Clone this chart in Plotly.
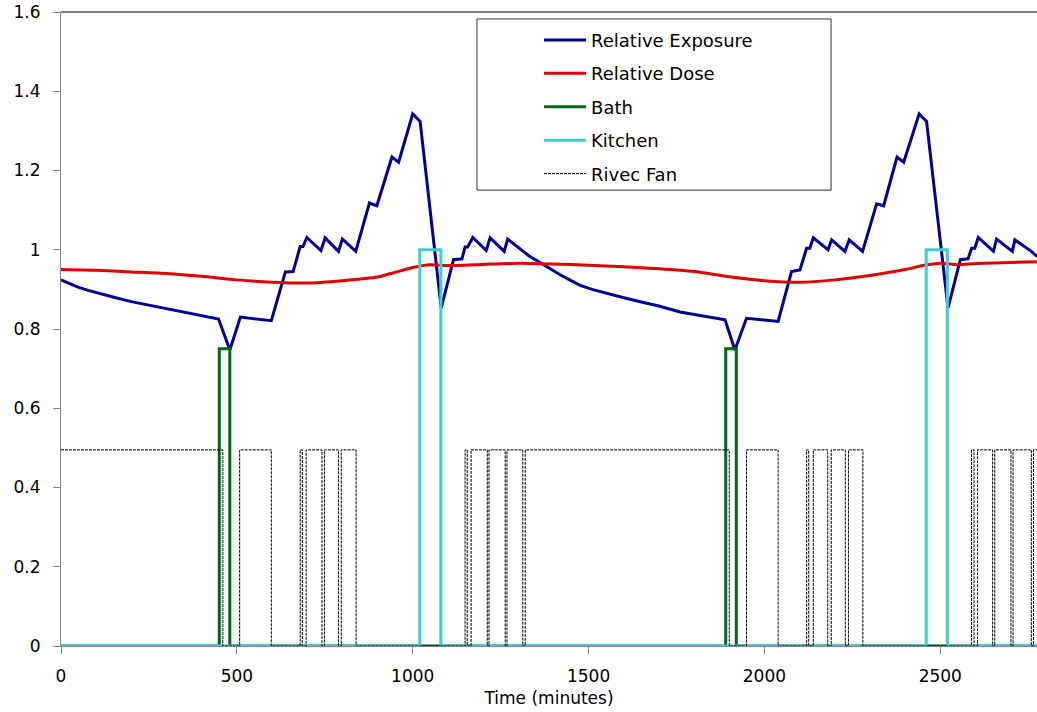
import plotly.graph_objects as go

# ---------------- data ----------------
exp_t = [0, 25, 50, 75, 112, 150, 200, 250, 300, 340, 400, 448, 480, 510, 598, 638, 660, 680,
         688, 699, 739, 751, 789, 800, 838, 877, 898, 941, 960, 1000, 1021, 1081, 1116, 1140,
         1149, 1156, 1171, 1209, 1220, 1260, 1270, 1315, 1330, 1362, 1390, 1419, 1450, 1476,
         1510, 1550, 1600, 1650, 1700, 1760, 1820, 1888, 1916, 1949, 2039, 2077, 2101, 2120,
         2129, 2139, 2181, 2191, 2229, 2241, 2279, 2319, 2339, 2377, 2396, 2440, 2461, 2522,
         2557, 2579, 2589, 2598, 2608, 2651, 2660, 2705, 2712, 2759, 2775]
exp_v = [0.924, 0.914, 0.905, 0.898, 0.890, 0.880, 0.869, 0.860, 0.852, 0.845, 0.834, 0.825,
         0.747, 0.830, 0.821, 0.944, 0.945, 1.008, 1.008, 1.031, 0.998, 1.030, 0.996, 1.027,
         0.996, 1.118, 1.111, 1.234, 1.221, 1.343, 1.324, 0.853, 0.975, 0.977, 1.007, 1.007,
         1.031, 0.998, 1.030, 0.996, 1.027, 0.996, 0.985, 0.968, 0.952, 0.937, 0.922, 0.910,
         0.900, 0.890, 0.879, 0.868, 0.858, 0.843, 0.833, 0.823, 0.747, 0.827, 0.819, 0.945,
         0.949, 1.004, 1.004, 1.030, 1.000, 1.025, 0.996, 1.025, 0.996, 1.116, 1.111, 1.234,
         1.221, 1.343, 1.324, 0.853, 0.975, 0.977, 1.004, 1.004, 1.031, 0.996, 1.027, 0.996,
         1.025, 0.996, 0.983]

dose_t = [0, 100, 200, 300, 400, 500, 600, 700, 800, 900, 950, 1000, 1050, 1100, 1200, 1300,
          1400, 1500, 1600, 1700, 1800, 1900, 2000, 2100, 2200, 2300, 2400, 2450, 2500, 2550,
          2600, 2700, 2775]
dose_v = [0.950, 0.948, 0.944, 0.940, 0.933, 0.924, 0.918, 0.916, 0.922, 0.931, 0.943, 0.955,
          0.962, 0.960, 0.963, 0.966, 0.964, 0.961, 0.957, 0.952, 0.945, 0.932, 0.922, 0.918,
          0.924, 0.935, 0.950, 0.960, 0.966, 0.962, 0.965, 0.968, 0.970]

bath_t = [0, 450, 480, 1890, 1920, 2775]
bath_v = [0, 0.75, 0, 0.75, 0, 0]

kitchen_t = [0, 1020, 1080, 2460, 2520, 2775]
kitchen_v = [0, 1.0, 0, 1.0, 0, 0]

fan_t = [0, 460, 508, 598, 680, 686, 697, 742, 749, 789, 797, 839,
         1149, 1155, 1166, 1212, 1217, 1263, 1268, 1313, 1320,
         1900, 1949, 2039, 2120, 2126, 2139, 2180, 2190, 2230, 2239, 2280,
         2589, 2596, 2606, 2649, 2655, 2701, 2707, 2759, 2765, 2775]
fan_v = [0.495, 0, 0.495, 0, 0.495, 0, 0.495, 0, 0.495, 0, 0.495, 0,
         0.495, 0, 0.495, 0, 0.495, 0, 0.495, 0, 0.495,
         0, 0.495, 0, 0.495, 0, 0.495, 0, 0.495, 0, 0.495, 0,
         0.495, 0, 0.495, 0, 0.495, 0, 0.495, 0, 0.495, 0.495]

x_ticks = [0, 500, 1000, 1500, 2000, 2500]
y_ticks = [0, 0.2, 0.4, 0.6, 0.8, 1.0, 1.2, 1.4, 1.6]
y_labels = ["0", "0.2", "0.4", "0.6", "0.8", "1", "1.2", "1.4", "1.6"]

FONT = "DejaVu Sans"
AXIS_GRAY = "#868686"

fig = go.Figure()
fig.add_trace(go.Scatter(x=exp_t, y=exp_v, mode="lines", name="Relative Exposure",
                         legendgroup="a", line=dict(color="#000096", width=3)))
fig.add_trace(go.Scatter(x=dose_t, y=dose_v, mode="lines", name="Relative Dose",
                         legendgroup="b", line=dict(color="#E00000", width=3, shape="spline",
                                                    smoothing=0.6)))
fig.add_trace(go.Scatter(x=bath_t, y=bath_v, mode="lines", name="Bath", legendgroup="c",
                         line=dict(color="#00661A", width=3, shape="hv")))
fig.add_trace(go.Scatter(x=kitchen_t, y=kitchen_v, mode="lines", name="Kitchen",
                         legendgroup="d", line=dict(color="#3CCFCF", width=3, shape="hv")))
fig.add_trace(go.Scatter(x=fan_t, y=fan_v, mode="lines", name="Rivec Fan", legendgroup="e",
                         line=dict(color="black", width=1, shape="hv", dash="3px,1px")))

fig.update_layout(
    width=1037, height=712,
    margin=dict(l=61, r=0, t=12, b=66),
    paper_bgcolor="white", plot_bgcolor="white",
    font=dict(family=FONT, size=17, color="black"),
    legend=dict(x=0.4898, y=0.9846, xanchor="left", yanchor="top",
                bgcolor="rgba(0,0,0,0)", borderwidth=0,
                font=dict(family=FONT, size=18, color="black"),
                itemwidth=42, tracegroupgap=7, traceorder="grouped"),
    shapes=[
        dict(type="line", xref="paper", yref="paper", x0=0, x1=1, y0=1, y1=1,
             line=dict(color="black", width=1)),
        dict(type="rect", xref="paper", yref="paper", x0=0.4262, x1=0.789, y0=0.719, y1=0.989,
             line=dict(color="#333333", width=1), fillcolor="rgba(0,0,0,0)"),
    ],
)
fig.update_xaxes(range=[0, 2775], tickvals=x_ticks, ticks="outside", ticklen=7,
                 tickcolor=AXIS_GRAY, showline=True, linecolor=AXIS_GRAY, linewidth=1,
                 showgrid=False, zeroline=False, ticklabelstandoff=8, automargin=False,
                 title=dict(text="Time (minutes)", standoff=6, font=dict(size=17)))
fig.update_yaxes(range=[0, 1.6], tickvals=y_ticks, ticktext=y_labels, ticks="outside",
                 ticklen=7, tickcolor=AXIS_GRAY, showline=True, linecolor=AXIS_GRAY,
                 linewidth=1, showgrid=False, zeroline=False, ticklabelstandoff=9,
                 automargin=False)

# remove the browser's default 8px body margin so the figure fills the window exactly
fig.write_html("out.html", config={"displayModeBar": False},
               post_script="document.body.style.margin='0';")
